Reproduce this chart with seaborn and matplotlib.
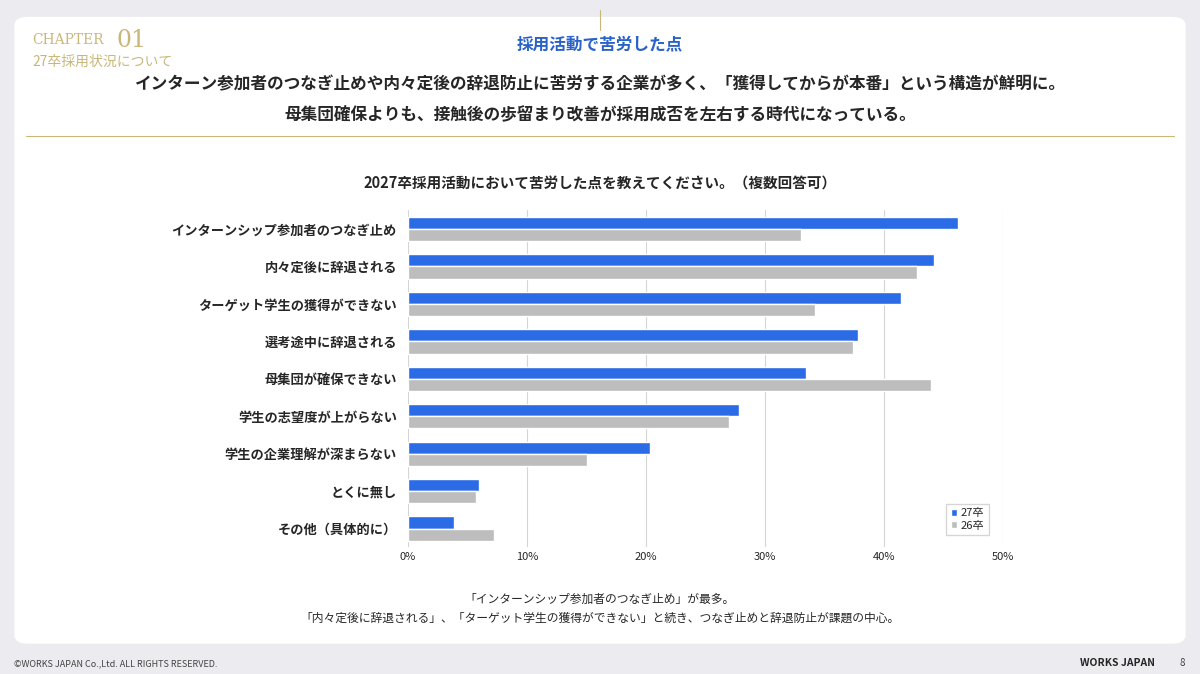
import numpy as np
import pandas as pd
import seaborn as sb
from matplotlib import pyplot as plt
from matplotlib.patches import FancyBboxPatch

#   Data
items = ["インターンシップ参加者のつなぎ止め", "内々定後に辞退される", "ターゲット学生の獲得ができない",
         "選考途中に辞退される", "母集団が確保できない", "学生の志望度が上がらない",
         "学生の企業理解が深まらない", "とくに無し", "その他（具体的に）"]
y27 = [46.2, 44.2, 41.4, 37.8, 33.4, 27.8, 20.3, 6.0, 3.9]
y26 = [33.0, 42.8, 34.2, 37.4, 43.9, 27.0, 15.0, 5.7, 7.2]
ticks = [0, 10, 20, 30, 40, 50]

df = pd.DataFrame({"item": items * 2, "value": y27 + y26,
                   "year": ["27卒"] * len(items) + ["26卒"] * len(items)})

sb.set_style("white")
plt.rcParams['font.family'] = ['Noto Sans CJK JP', 'DejaVu Sans']

fig = plt.figure(figsize=(12, 6.74), dpi=100)
fig.patch.set_facecolor("#ececf0")
card = FancyBboxPatch((0.012, 0.045), 0.976, 0.93, boxstyle="round,pad=0,rounding_size=0.012",
                      transform=fig.transFigure, facecolor="white", edgecolor="none", zorder=-5)
fig.patches.append(card)

gold = "#c9b77a"
fig.text(0.027, 0.935, "CHAPTER", color=gold, fontsize=10, family="DejaVu Serif")
fig.text(0.097, 0.93, "01", color=gold, fontsize=17, family="DejaVu Serif")
fig.text(0.027, 0.902, "27卒採用状況について", color=gold, fontsize=10)
fig.text(0.5, 0.927, "採用活動で苦労した点", color="#2a62c9", fontsize=12, weight="bold", ha="center")
fig.add_artist(plt.Line2D([0.5, 0.5], [0.955, 0.985], color=gold, lw=0.8, transform=fig.transFigure))
fig.text(0.5, 0.868, "インターン参加者のつなぎ止めや内々定後の辞退防止に苦労する企業が多く、「獲得してからが本番」という構造が鮮明に。",
         fontsize=12, weight="bold", ha="center")
fig.text(0.5, 0.823, "母集団確保よりも、接触後の歩留まり改善が採用成否を左右する時代になっている。",
         fontsize=12, weight="bold", ha="center")
fig.add_artist(plt.Line2D([0.022, 0.978], [0.798, 0.798], color=gold, lw=0.8, transform=fig.transFigure))
fig.text(0.5, 0.72, "2027卒採用活動において苦労した点を教えてください。（複数回答可）",
         fontsize=10.5, weight="bold", ha="center")

ax = fig.add_axes([0.34, 0.188, 0.496, 0.50])
sb.barplot(data=df, y="item", x="value", hue="year", orient="h", ax=ax,
           palette={"27卒": "#2b6be6", "26卒": "#bdbdbd"}, width=0.65, saturation=1)
ax.set_xlim(0, 50)
ax.set_xticks(ticks)
ax.set_xticklabels([f"{t}%" for t in ticks], fontsize=8)
ax.tick_params(axis="y", labelsize=9.5, length=0, pad=8)
for lab in ax.get_yticklabels():
    lab.set_fontweight("bold")
ax.tick_params(axis="x", length=0)
ax.grid(axis="x", color="#d5d5d5", lw=0.8)
ax.set_axisbelow(True)
for s in ax.spines.values():
    s.set_visible(False)
ax.set_xlabel("")
ax.set_ylabel("")
ax.legend(loc="lower right", fontsize=8, handlelength=0.6, handleheight=0.6,
          frameon=True, fancybox=False, edgecolor="#cccccc", borderpad=0.4,
          labelspacing=0.2, handletextpad=0.3, bbox_to_anchor=(0.985, 0.02))

fig.text(0.5, 0.105, "「インターンシップ参加者のつなぎ止め」が最多。", fontsize=8.5, ha="center")
fig.text(0.5, 0.078, "「内々定後に辞退される」、「ターゲット学生の獲得ができない」と続き、つなぎ止めと辞退防止が課題の中心。",
         fontsize=8.5, ha="center")
fig.text(0.012, 0.012, "©WORKS JAPAN Co.,Ltd. ALL RIGHTS RESERVED.", fontsize=6.5, color="#444444")
fig.text(0.9, 0.012, "WORKS JAPAN", fontsize=7.5, weight="bold")
fig.text(0.983, 0.012, "8", fontsize=7, color="#444444")

fig.savefig("out.png", dpi=100, facecolor=fig.get_facecolor())
